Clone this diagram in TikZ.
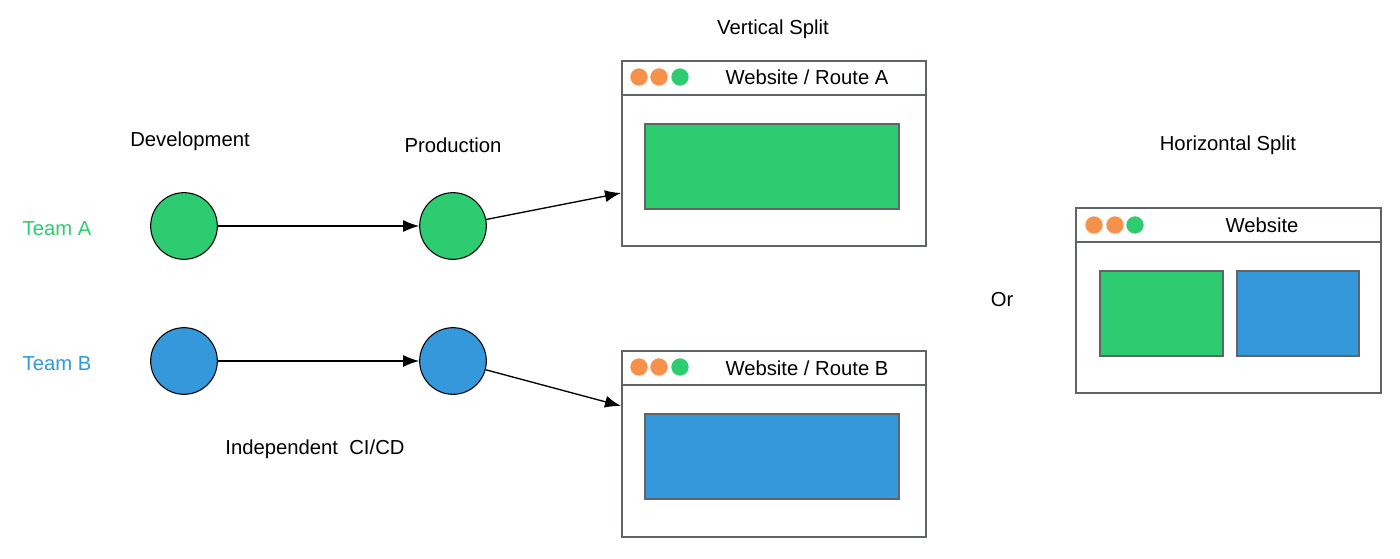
\documentclass[tikz,border=0pt]{standalone}
\usepackage{fontspec}
\setmainfont{Liberation Sans}
\usetikzlibrary{arrows.meta,positioning}
\definecolor{cgreen}{HTML}{2ECC71}
\definecolor{cblue}{HTML}{3498DB}
\definecolor{corange}{HTML}{F5914A}
\definecolor{cframe}{HTML}{5F6466}
\tikzset{
  lbl/.style={font=\fontsize{15.2}{18}\selectfont, inner sep=0pt},
  dotnode/.style={circle, minimum size=13, inner sep=0pt, fill=#1},
  stage/.style={circle, draw=black, line width=0.8pt, minimum size=50, inner sep=0pt, fill=#1},
  win/.style={draw=cframe, line width=1pt, fill=white, rectangle, inner sep=0pt},
  pane/.style={draw=cframe, line width=0.9pt, fill=#1, rectangle, inner sep=0pt},
  arr/.style={draw=black, line width=1pt, -{Latex[length=12pt,width=9pt]}},
}
\begin{document}
\begin{tikzpicture}[x=0.75pt,y=-0.75pt]
\useasboundingbox (0,0) rectangle (1400,559);
\fill[white] (0,0) rectangle (1400,559);

% headings
\node[lbl] (vsplit) at (773,29) {Vertical Split};
\node[lbl] (dev) at (190,141) {Development};
\node[lbl] (prod) at (453,145) {Production};
\node[lbl] (hsplit) at (1228,145) {Horizontal Split};
\node[lbl, text=cgreen] (teamA) at (57,229) {Team A};
\node[lbl, text=cblue] (teamB) at (57,364) {Team B};
\node[lbl] (cicd) at (315,449) {Independent\ \ CI/CD};
\node[lbl] (or) at (1002,300) {Or};

% stages
\node[stage=cgreen] (devA) at (184,226) {};
\node[stage=cgreen] (prodA) at (453,226) {};
\node[stage=cblue] (devB) at (184,361) {};
\node[stage=cblue] (prodB) at (453,361) {};

% window A
\draw[win] (622,61) rectangle (926,246);
\node[minimum width=304*0.75pt, minimum height=185*0.75pt, inner sep=0pt] (winA) at (774,153.5) {};
\draw[cframe, line width=1pt] (622,95) -- (926,95);
\node[dotnode=corange] (a1) at (639,77) {};
\node[dotnode=corange] (a2) at (659,77) {};
\node[dotnode=cgreen] (a3) at (680,77) {};
\node[lbl] (titleA) at (807,77) {Website / Route A};
\draw[pane=cgreen] (645,124) rectangle (899,209);

% window B
\draw[win] (622,351) rectangle (926,537);
\node[minimum width=304*0.75pt, minimum height=186*0.75pt, inner sep=0pt] (winB) at (774,444) {};
\draw[cframe, line width=1pt] (622,385) -- (926,385);
\node[dotnode=corange] (b1) at (639,367) {};
\node[dotnode=corange] (b2) at (659,367) {};
\node[dotnode=cgreen] (b3) at (680,367) {};
\node[lbl] (titleB) at (807,368) {Website / Route B};
\draw[pane=cblue] (645,414) rectangle (899,499);

% window H
\draw[win] (1076,208) rectangle (1381,393);
\node[minimum width=305*0.75pt, minimum height=185*0.75pt, inner sep=0pt] (winH) at (1228.5,300.5) {};
\draw[cframe, line width=1pt] (1076,242) -- (1381,242);
\node[dotnode=corange] (h1) at (1094,225) {};
\node[dotnode=corange] (h2) at (1115,225) {};
\node[dotnode=cgreen] (h3) at (1135,225) {};
\node[lbl] (titleH) at (1262,225) {Website};
\draw[pane=cgreen] (1100,271) rectangle (1223,356);
\draw[pane=cblue] (1237,271) rectangle (1359,356);

% connectors
\coordinate (inA) at (621,193);
\coordinate (inB) at (621,406);
\draw[arr] (devA) -- (prodA);
\draw[arr] (devB) -- (prodB);
\draw[arr] (prodA) -- (inA);
\draw[arr] (prodB) -- (inB);
\end{tikzpicture}
\end{document}
